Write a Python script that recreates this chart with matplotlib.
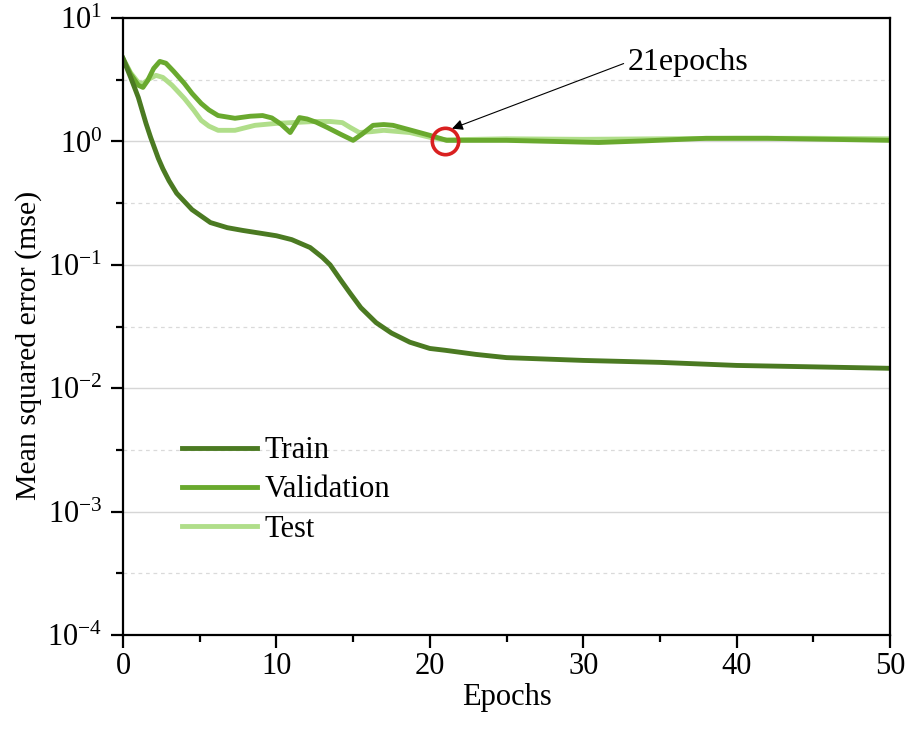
import numpy as np
import matplotlib
matplotlib.use('Agg')
import matplotlib.pyplot as plt
from matplotlib.ticker import FixedLocator, NullFormatter

plt.rcParams['font.family'] = 'Liberation Serif'
plt.rcParams['mathtext.fontset'] = 'custom'
plt.rcParams['mathtext.rm'] = 'Liberation Serif'
plt.rcParams['mathtext.it'] = 'Liberation Serif:italic'

# values
train_ep = [0, 0.5, 1, 1.5, 1.8, 2.3, 2.6, 3, 3.5, 4.5, 5.7, 6.8, 7.8, 9, 10, 11, 12.2,
            13, 13.5, 14.2, 14.8, 15.5, 16.5, 17.5, 18.7, 20, 21, 23, 25, 30, 35, 40,
            45, 50]
train_mse = [4.7, 3.3, 2.27, 1.4, 1.08, 0.73, 0.6, 0.48, 0.38, 0.28, 0.22, 0.2, 0.19,
             0.18, 0.172, 0.16, 0.138, 0.115, 0.1, 0.075, 0.059, 0.045, 0.034, 0.028,
             0.0236, 0.021, 0.0203, 0.0188, 0.0177, 0.0168, 0.0162, 0.0153, 0.0149,
             0.0145]

val_ep = [0, 0.5, 1, 1.3, 1.6, 2.0, 2.4, 2.8, 3.3, 4.0, 4.5, 5.1, 5.6, 6.2, 7.3, 8.3,
          9.1, 9.7, 10.3, 10.9, 11.2, 11.5, 12.0, 12.6, 13.3, 14.2, 15, 15.6, 16.3,
          17.0, 17.6, 18.7, 20, 21.1, 22, 25, 28, 31, 34, 38, 42, 46, 50]
val_mse = [4.7, 3.5, 2.85, 2.74, 3.1, 3.9, 4.45, 4.3, 3.7, 2.95, 2.45, 2.03, 1.8, 1.62,
           1.54, 1.6, 1.62, 1.55, 1.38, 1.18, 1.35, 1.56, 1.52, 1.43, 1.3, 1.14, 1.02,
           1.15, 1.35, 1.37, 1.35, 1.24, 1.12, 1.02, 1.02, 1.02, 1.0, 0.98, 1.01, 1.06,
           1.06, 1.04, 1.02]

test_ep = [0, 0.5, 1, 1.3, 1.7, 2.15, 2.6, 3.2, 4.0, 4.6, 5.1, 5.6, 6.2, 7.3, 8.6, 10,
           11.5, 12.5, 13.5, 14.3, 14.8, 15.4, 16.2, 17, 18.7, 20, 21, 25, 30, 35, 40,
           45, 50]
test_mse = [4.7, 3.6, 3.0, 2.95, 3.2, 3.43, 3.3, 2.85, 2.23, 1.8, 1.48, 1.33, 1.23,
            1.23, 1.35, 1.4, 1.43, 1.45, 1.45, 1.42, 1.3, 1.18, 1.2, 1.23, 1.18, 1.08,
            1.03, 1.05, 1.04, 1.05, 1.06, 1.06, 1.05]

best_epoch = 21
best_mse = 1.0

fig = plt.figure(figsize=(9.11, 7.35), dpi=100)
ax = fig.add_axes([0.135, 0.136, 0.842, 0.8395])

lt, = ax.plot(test_ep, test_mse, color='#b0de8a', lw=3.5, label='Test')
lv, = ax.plot(val_ep, val_mse, color='#69a92e', lw=3.5, label='Validation')
ltr, = ax.plot(train_ep, train_mse, color='#4b7a22', lw=3.5, label='Train')

ax.plot(best_epoch, best_mse, 'o', mfc='none', mec='#d92020', ms=19, mew=2.6)
ax.annotate('21epochs', xy=(21.45, 1.27), xytext=(32.9, 4.4),
            fontsize=23, ha='left', va='center',
            arrowprops=dict(arrowstyle='-|>', color='black', lw=0.8,
                            mutation_scale=16, shrinkA=1, shrinkB=0,
                            relpos=(0, 0.5)))

ax.set_yscale('log')
ax.set_ylim(1e-4, 10)
ax.set_xlim(0, 50)

decades = [-4, -3, -2, -1, 0, 1]
ax.yaxis.set_major_locator(FixedLocator([10.0 ** d for d in decades]))
ax.set_yticklabels(['$10^{%d}$' % d for d in decades])
ax.yaxis.set_minor_locator(FixedLocator([10.0 ** (d + 0.5) for d in decades[:-1]]))
ax.yaxis.set_minor_formatter(NullFormatter())
ax.set_xticks([0, 10, 20, 30, 40, 50])
ax.set_xticks([5, 15, 25, 35, 45], minor=True)

ax.grid(True, which='major', axis='y', color='#d6d6d6', lw=1.0, ls='-')
ax.grid(True, which='minor', axis='y', color='#dadada', lw=0.9, ls=(0, (3, 3)))
ax.set_axisbelow(True)

for s in ax.spines.values():
    s.set_linewidth(1.6)
ax.tick_params(which='major', direction='out', length=9, width=1.6, labelsize=22)
ax.tick_params(axis='x', which='major', pad=3)
ax.tick_params(axis='y', which='major', pad=6)
ax.tick_params(which='minor', direction='out', length=5, width=1.6)

ax.set_xlabel('Epochs', fontsize=22, labelpad=2)
ax.set_ylabel('Mean squared error (mse)', fontsize=21.5)
ax.yaxis.set_label_coords(-0.106, 0.47)

ax.legend(handles=[ltr, lv, lt], loc='upper left', bbox_to_anchor=(0.077, 0.322),
          frameon=False, fontsize=22, borderpad=0, borderaxespad=0,
          handlelength=2.45, handletextpad=0.25, labelspacing=0.33)

fig.savefig('out.png', dpi=100)
